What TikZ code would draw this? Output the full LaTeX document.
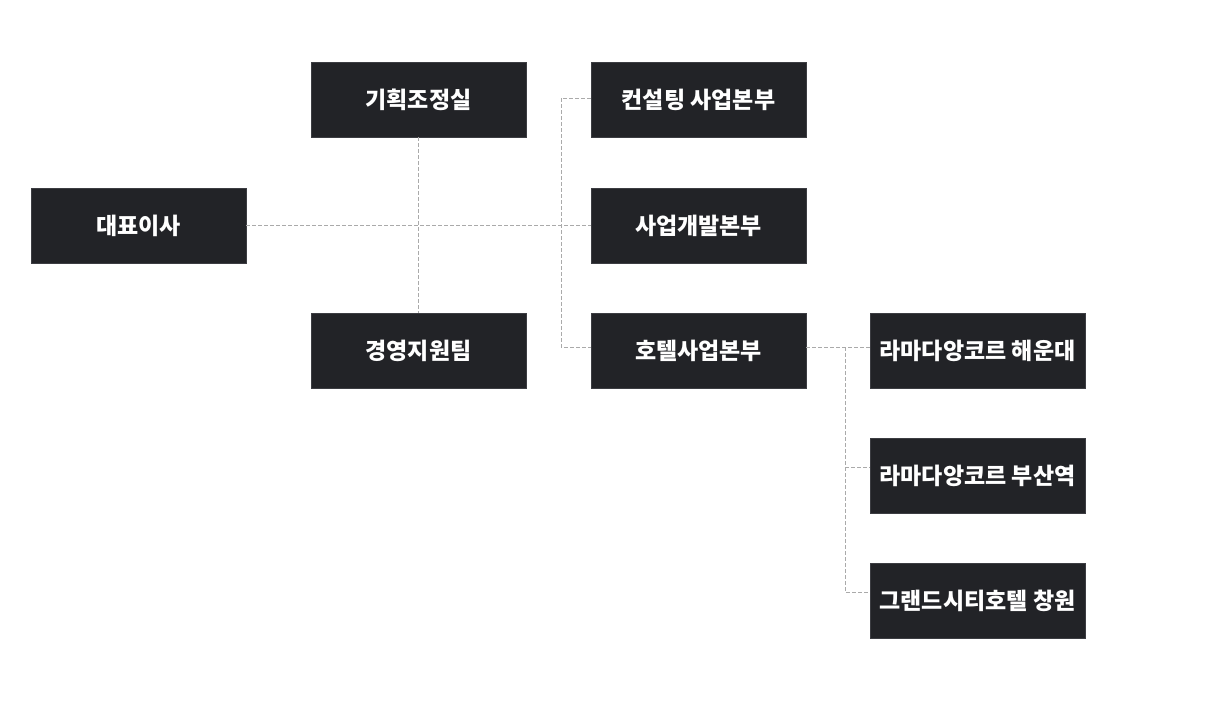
\documentclass[tikz,border=0pt]{standalone}
\usepackage{fontspec}
\setmainfont{Noto Sans CJK KR}
\usetikzlibrary{calc}
\definecolor{boxdark}{HTML}{222327}
\definecolor{boxline}{HTML}{3C3D42}
\definecolor{linkgray}{HTML}{AAAAAA}
\tikzset{
	unit/.style={fill=boxdark, draw=boxline, line width=0.8pt, minimum width=215pt, minimum height=75pt, inner sep=0pt, text=white, font=\fontsize{23}{27}\selectfont\bfseries},
	edge/.style={draw=linkgray, line width=1pt, dash pattern=on 4pt off 2pt}
}
\begin{document}
\begin{tikzpicture}[x=1pt, y=-1pt]
\useasboundingbox (0,0) rectangle (1220,720);
\node[unit] (ceo) at (138.5, 225.5) {대표이사};
\node[unit] (plan) at (418.5, 99.5) {기획조정실};
\node[unit] (mgmt) at (418.5, 350.5) {경영지원팀};
\node[unit] (cons) at (698.5, 99.5) {컨설팅 사업본부};
\node[unit] (dev) at (698.5, 225.5) {사업개발본부};
\node[unit] (hotel) at (698.5, 350.5) {호텔사업본부};
\node[unit] (hdae) at (977.5, 350.5) {라마다앙코르 해운대};
\node[unit] (busan) at (977.5, 475.5) {라마다앙코르 부산역};
\node[unit] (grand) at (977.5, 600.5) {그랜드시티호텔 창원};

\coordinate (busTop) at (561, 98);
\coordinate (busBot) at (561, 347);
\coordinate (hotA) at (845, 347);
\coordinate (hotB) at (845, 467);
\coordinate (hotC) at (845, 592);

\draw[edge] (ceo.east) -- (dev.west);
\draw[edge] (plan.south) -- (mgmt.north);
\draw[edge] (cons.west |- busTop) -- (busTop) -- (busBot) -- (hotel.west |- busBot);
\draw[edge] (hotel.east |- hotA) -- (hdae.west |- hotA);
\draw[edge] (hotA) -- (hotC) -- (grand.west |- hotC);
\draw[edge] (hotB) -- (busan.west |- hotB);
\end{tikzpicture}
\end{document}
